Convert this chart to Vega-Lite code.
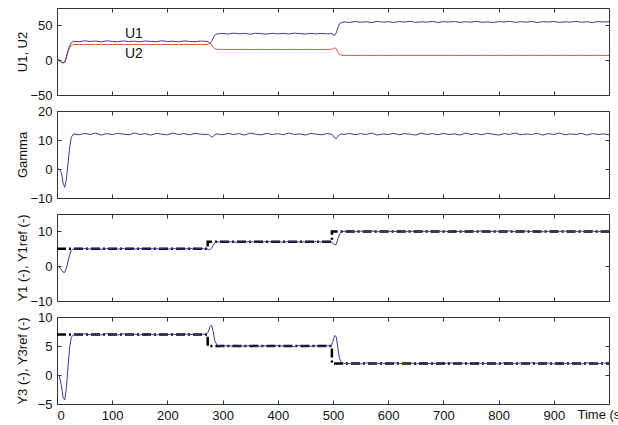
{
  "$schema": "https://vega.github.io/schema/vega-lite/v6.json",
  "padding": {"left": 15, "top": 7, "right": 0, "bottom": 0},
  "spacing": 16,
  "bounds": "flush",
  "config": {
    "view": {"stroke": "#333333", "strokeWidth": 1},
    "font": "Liberation Sans",
    "axis": {"grid": false, "domain": false, "tickSize": -4, "tickColor": "#333333", "labelFontSize": 13, "titleFontSize": 13, "labelColor": "#111111", "titleColor": "#111111", "titleFontWeight": "normal", "labelPadding": 9}
  },
  "datasets": {
    "sim": [
      {"t":0,"U1":0,"U2":0,"G":0,"Y1":0,"Y3":0},
      {"t":4,"U1":1,"U2":-1,"G":0,"Y1":-0.2,"Y3":-0.1},
      {"t":8,"U1":-2,"U2":-3,"G":-1.2,"Y1":-1.0,"Y3":-1.8},
      {"t":11,"U1":-4,"U2":-4,"G":-4.8,"Y1":-1.7,"Y3":-3.9},
      {"t":14,"U1":-2.5,"U2":-3,"G":-6.3,"Y1":-1.8,"Y3":-4.3},
      {"t":17,"U1":5,"U2":3,"G":-3.5,"Y1":-0.6,"Y3":-2.2},
      {"t":20,"U1":14,"U2":12,"G":2,"Y1":1.4,"Y3":1.5},
      {"t":23,"U1":21,"U2":18,"G":7.5,"Y1":3.4,"Y3":4.8},
      {"t":26,"U1":25.5,"U2":21.5,"G":11,"Y1":4.6,"Y3":6.5},
      {"t":30,"U1":27.2,"U2":22.5,"G":12.1,"Y1":5.0,"Y3":7.0},
      {"t":40,"U1":26.6,"U2":22.6,"G":11.8,"Y1":4.9,"Y3":6.9},
      {"t":50,"U1":27.8,"U2":22.5,"G":12.3,"Y1":5.1,"Y3":7.1},
      {"t":60,"U1":26.9,"U2":22.6,"G":11.9,"Y1":4.95,"Y3":6.95},
      {"t":70,"U1":27.5,"U2":22.5,"G":12.4,"Y1":5.05,"Y3":7.05},
      {"t":80,"U1":26.3,"U2":22.6,"G":11.7,"Y1":4.9,"Y3":6.9},
      {"t":90,"U1":27.9,"U2":22.5,"G":12.2,"Y1":5.1,"Y3":7.15},
      {"t":100,"U1":27.0,"U2":22.6,"G":11.9,"Y1":5.0,"Y3":7.0},
      {"t":110,"U1":26.5,"U2":22.5,"G":12.3,"Y1":4.9,"Y3":6.9},
      {"t":120,"U1":27.7,"U2":22.6,"G":12.0,"Y1":5.1,"Y3":7.1},
      {"t":130,"U1":26.8,"U2":22.5,"G":11.8,"Y1":5.0,"Y3":6.95},
      {"t":140,"U1":27.4,"U2":22.6,"G":12.4,"Y1":4.95,"Y3":7.05},
      {"t":150,"U1":26.4,"U2":22.5,"G":11.9,"Y1":5.1,"Y3":6.9},
      {"t":160,"U1":27.6,"U2":22.6,"G":12.2,"Y1":4.9,"Y3":7.1},
      {"t":170,"U1":27.0,"U2":22.5,"G":11.7,"Y1":5.05,"Y3":7.0},
      {"t":180,"U1":26.6,"U2":22.6,"G":12.3,"Y1":4.95,"Y3":6.9},
      {"t":190,"U1":27.9,"U2":22.5,"G":12.0,"Y1":5.1,"Y3":7.1},
      {"t":200,"U1":26.9,"U2":22.6,"G":11.8,"Y1":4.9,"Y3":6.95},
      {"t":210,"U1":27.3,"U2":22.5,"G":12.4,"Y1":5.05,"Y3":7.05},
      {"t":220,"U1":26.5,"U2":22.6,"G":11.9,"Y1":5.0,"Y3":6.9},
      {"t":230,"U1":27.7,"U2":22.5,"G":12.2,"Y1":4.9,"Y3":7.1},
      {"t":240,"U1":27.0,"U2":22.6,"G":11.8,"Y1":5.1,"Y3":7.0},
      {"t":250,"U1":26.6,"U2":22.5,"G":12.3,"Y1":4.95,"Y3":6.95},
      {"t":260,"U1":27.5,"U2":22.6,"G":12.0,"Y1":5.05,"Y3":7.05},
      {"t":270,"U1":27.0,"U2":22.5,"G":11.9,"Y1":5.0,"Y3":7.0},
      {"t":274,"U1":26.5,"U2":23.0,"G":12.0,"Y1":4.9,"Y3":7.4},
      {"t":277,"U1":24.5,"U2":24.0,"G":11.5,"Y1":4.7,"Y3":8.3},
      {"t":280,"U1":27.0,"U2":22.5,"G":11.0,"Y1":5.2,"Y3":8.6},
      {"t":283,"U1":32.0,"U2":19.0,"G":11.3,"Y1":6.0,"Y3":7.5},
      {"t":286,"U1":36.0,"U2":16.5,"G":11.8,"Y1":6.7,"Y3":5.9},
      {"t":290,"U1":37.8,"U2":15.6,"G":12.1,"Y1":7.0,"Y3":5.1},
      {"t":300,"U1":38.4,"U2":15.5,"G":11.8,"Y1":6.95,"Y3":4.95},
      {"t":310,"U1":37.6,"U2":15.5,"G":12.3,"Y1":7.1,"Y3":5.1},
      {"t":320,"U1":38.9,"U2":15.4,"G":11.9,"Y1":6.9,"Y3":4.9},
      {"t":330,"U1":37.9,"U2":15.5,"G":12.2,"Y1":7.05,"Y3":5.05},
      {"t":340,"U1":38.6,"U2":15.5,"G":11.7,"Y1":6.95,"Y3":4.95},
      {"t":350,"U1":37.4,"U2":15.4,"G":12.4,"Y1":7.1,"Y3":5.1},
      {"t":360,"U1":38.8,"U2":15.5,"G":12.0,"Y1":6.9,"Y3":4.9},
      {"t":370,"U1":38.0,"U2":15.5,"G":11.8,"Y1":7.0,"Y3":5.0},
      {"t":380,"U1":37.5,"U2":15.4,"G":12.3,"Y1":7.1,"Y3":5.05},
      {"t":390,"U1":38.7,"U2":15.5,"G":11.9,"Y1":6.95,"Y3":4.9},
      {"t":400,"U1":37.8,"U2":15.5,"G":12.2,"Y1":7.05,"Y3":5.1},
      {"t":410,"U1":38.5,"U2":15.4,"G":11.8,"Y1":6.9,"Y3":4.95},
      {"t":420,"U1":37.6,"U2":15.5,"G":12.4,"Y1":7.1,"Y3":5.05},
      {"t":430,"U1":38.9,"U2":15.5,"G":11.9,"Y1":7.0,"Y3":4.9},
      {"t":440,"U1":38.1,"U2":15.4,"G":12.1,"Y1":6.95,"Y3":5.1},
      {"t":450,"U1":37.5,"U2":15.5,"G":11.7,"Y1":7.05,"Y3":5.0},
      {"t":460,"U1":38.6,"U2":15.5,"G":12.3,"Y1":6.9,"Y3":4.95},
      {"t":470,"U1":37.8,"U2":15.4,"G":12.0,"Y1":7.1,"Y3":5.05},
      {"t":480,"U1":38.4,"U2":15.5,"G":11.8,"Y1":6.95,"Y3":4.9},
      {"t":490,"U1":37.9,"U2":15.5,"G":12.2,"Y1":7.0,"Y3":5.05},
      {"t":497,"U1":38.2,"U2":15.6,"G":12.0,"Y1":6.95,"Y3":5.1},
      {"t":500,"U1":37.0,"U2":16.5,"G":11.6,"Y1":6.6,"Y3":5.8},
      {"t":503,"U1":35.5,"U2":17.8,"G":10.7,"Y1":6.1,"Y3":6.8},
      {"t":506,"U1":39.5,"U2":16.5,"G":10.5,"Y1":6.3,"Y3":6.6},
      {"t":509,"U1":47.0,"U2":11.5,"G":11.3,"Y1":8.0,"Y3":4.5},
      {"t":512,"U1":52.5,"U2":8.2,"G":11.9,"Y1":9.3,"Y3":2.8},
      {"t":516,"U1":54.3,"U2":7.0,"G":12.1,"Y1":9.9,"Y3":2.1},
      {"t":520,"U1":55.0,"U2":6.9,"G":11.9,"Y1":10.0,"Y3":2.0},
      {"t":530,"U1":54.2,"U2":7.0,"G":12.3,"Y1":10.1,"Y3":1.95},
      {"t":540,"U1":55.6,"U2":6.9,"G":11.8,"Y1":9.9,"Y3":2.05},
      {"t":550,"U1":54.5,"U2":6.9,"G":12.2,"Y1":10.05,"Y3":1.9},
      {"t":560,"U1":55.3,"U2":7.0,"G":11.9,"Y1":9.95,"Y3":2.1},
      {"t":570,"U1":54.0,"U2":6.9,"G":12.4,"Y1":10.1,"Y3":2.0},
      {"t":580,"U1":55.8,"U2":6.9,"G":11.7,"Y1":9.9,"Y3":1.95},
      {"t":590,"U1":54.7,"U2":7.0,"G":12.1,"Y1":10.0,"Y3":2.05},
      {"t":600,"U1":55.2,"U2":6.9,"G":11.9,"Y1":10.05,"Y3":1.9},
      {"t":610,"U1":54.3,"U2":6.9,"G":12.3,"Y1":9.95,"Y3":2.1},
      {"t":620,"U1":55.5,"U2":7.0,"G":11.8,"Y1":10.1,"Y3":2.0},
      {"t":630,"U1":54.8,"U2":6.9,"G":12.2,"Y1":9.9,"Y3":1.95},
      {"t":640,"U1":55.9,"U2":6.9,"G":12.0,"Y1":10.0,"Y3":2.05},
      {"t":650,"U1":54.4,"U2":7.0,"G":11.7,"Y1":10.05,"Y3":1.9},
      {"t":660,"U1":55.1,"U2":6.9,"G":12.4,"Y1":9.95,"Y3":2.1},
      {"t":670,"U1":54.6,"U2":6.9,"G":11.9,"Y1":10.1,"Y3":2.0},
      {"t":680,"U1":55.7,"U2":7.0,"G":12.2,"Y1":9.9,"Y3":1.95},
      {"t":690,"U1":54.2,"U2":6.9,"G":11.8,"Y1":10.0,"Y3":2.05},
      {"t":700,"U1":55.4,"U2":6.9,"G":12.3,"Y1":10.05,"Y3":1.9},
      {"t":710,"U1":54.9,"U2":7.0,"G":11.9,"Y1":9.95,"Y3":2.1},
      {"t":720,"U1":55.6,"U2":6.9,"G":12.1,"Y1":10.1,"Y3":2.0},
      {"t":730,"U1":54.3,"U2":6.9,"G":11.7,"Y1":9.9,"Y3":1.95},
      {"t":740,"U1":55.2,"U2":7.0,"G":12.4,"Y1":10.0,"Y3":2.05},
      {"t":750,"U1":54.7,"U2":6.9,"G":11.9,"Y1":10.05,"Y3":1.9},
      {"t":760,"U1":55.8,"U2":6.9,"G":12.2,"Y1":9.95,"Y3":2.1},
      {"t":770,"U1":54.5,"U2":7.0,"G":11.8,"Y1":10.1,"Y3":2.0},
      {"t":780,"U1":55.0,"U2":6.9,"G":12.3,"Y1":9.9,"Y3":1.95},
      {"t":790,"U1":54.2,"U2":6.9,"G":12.0,"Y1":10.0,"Y3":2.05},
      {"t":800,"U1":55.5,"U2":7.0,"G":11.7,"Y1":10.05,"Y3":1.9},
      {"t":810,"U1":54.8,"U2":6.9,"G":12.2,"Y1":9.95,"Y3":2.1},
      {"t":820,"U1":55.9,"U2":6.9,"G":11.9,"Y1":10.1,"Y3":2.0},
      {"t":830,"U1":54.4,"U2":7.0,"G":12.4,"Y1":9.9,"Y3":1.95},
      {"t":840,"U1":55.3,"U2":6.9,"G":11.8,"Y1":10.0,"Y3":2.05},
      {"t":850,"U1":54.6,"U2":6.9,"G":12.1,"Y1":10.05,"Y3":1.9},
      {"t":860,"U1":55.7,"U2":7.0,"G":11.9,"Y1":9.95,"Y3":2.1},
      {"t":870,"U1":54.1,"U2":6.9,"G":12.3,"Y1":10.1,"Y3":2.0},
      {"t":880,"U1":55.4,"U2":6.9,"G":11.7,"Y1":9.9,"Y3":1.95},
      {"t":890,"U1":54.9,"U2":7.0,"G":12.2,"Y1":10.0,"Y3":2.05},
      {"t":900,"U1":55.6,"U2":6.9,"G":11.9,"Y1":10.05,"Y3":1.9},
      {"t":910,"U1":54.3,"U2":6.9,"G":12.4,"Y1":9.95,"Y3":2.1},
      {"t":920,"U1":55.1,"U2":7.0,"G":11.8,"Y1":10.1,"Y3":2.0},
      {"t":930,"U1":54.7,"U2":6.9,"G":12.1,"Y1":9.9,"Y3":1.95},
      {"t":940,"U1":55.8,"U2":6.9,"G":11.9,"Y1":10.0,"Y3":2.05},
      {"t":950,"U1":54.5,"U2":7.0,"G":12.3,"Y1":10.05,"Y3":1.9},
      {"t":960,"U1":55.2,"U2":6.9,"G":11.7,"Y1":9.95,"Y3":2.1},
      {"t":970,"U1":54.0,"U2":6.9,"G":12.2,"Y1":10.1,"Y3":2.0},
      {"t":980,"U1":55.5,"U2":7.0,"G":11.9,"Y1":9.9,"Y3":1.95},
      {"t":990,"U1":54.8,"U2":6.9,"G":12.1,"Y1":10.0,"Y3":2.05},
      {"t":1000,"U1":55.3,"U2":6.9,"G":11.8,"Y1":10.05,"Y3":2.0}
    ],
    "ref": [
      {"t":0,"r1":5,"r3":7},
      {"t":273,"r1":7,"r3":5},
      {"t":498,"r1":10,"r3":2},
      {"t":1000,"r1":10,"r3":2}
    ],
    "lab": [
      {"t":123,"v":38,"label":"U1"},
      {"t":123,"v":9,"label":"U2"}
    ]
  },
  "vconcat": [
    {
      "width": 552, "height": 87,
      "resolve": {"axis": {"x": "independent", "y": "independent"}},
      "layer": [
        {
          "data": {"name": "sim"},
          "mark": {"type": "line", "color": "#cc5a4e", "strokeWidth": 1},
          "encoding": {
            "x": {"field": "t", "type": "quantitative", "scale": {"domain": [0, 1000], "nice": false}, "axis": {"orient": "bottom", "labels": false, "title": null, "values": [0,100,200,300,400,500,600,700,800,900,1000]}},
            "y": {"field": "U2", "type": "quantitative", "scale": {"domain": [-50, 75], "nice": false}, "axis": {"orient": "left", "values": [-50, 0, 50], "title": "U1, U2", "titleX": -35, "titleBaseline": "middle"}}
          }
        },
        {
          "data": {"name": "sim"},
          "mark": {"type": "line", "color": "#3c3c9c", "strokeWidth": 1},
          "encoding": {
            "x": {"field": "t", "type": "quantitative", "scale": {"domain": [0, 1000], "nice": false}, "axis": {"orient": "top", "labels": false, "title": null, "values": [0,100,200,300,400,500,600,700,800,900,1000]}},
            "y": {"field": "U1", "type": "quantitative", "scale": {"domain": [-50, 75], "nice": false}, "axis": {"orient": "right", "labels": false, "title": null, "values": [-50, 0, 50]}}
          }
        },
        {
          "data": {"name": "lab"},
          "mark": {"type": "text", "align": "left", "baseline": "middle", "fontSize": 14, "color": "#111111"},
          "encoding": {
            "x": {"field": "t", "type": "quantitative", "scale": {"domain": [0, 1000], "nice": false}, "axis": null},
            "y": {"field": "v", "type": "quantitative", "scale": {"domain": [-50, 75], "nice": false}, "axis": null},
            "text": {"field": "label"}
          }
        }
      ]
    },
    {
      "width": 552, "height": 87,
      "resolve": {"axis": {"x": "independent", "y": "independent"}},
      "layer": [
        {
          "data": {"name": "sim"},
          "mark": {"type": "line", "color": "#3c3c9c", "strokeWidth": 1},
          "encoding": {
            "x": {"field": "t", "type": "quantitative", "scale": {"domain": [0, 1000], "nice": false}, "axis": {"orient": "bottom", "labels": false, "title": null, "values": [0,100,200,300,400,500,600,700,800,900,1000]}},
            "y": {"field": "G", "type": "quantitative", "scale": {"domain": [-10, 20], "nice": false}, "axis": {"orient": "left", "values": [-10, 0, 10, 20], "title": "Gamma", "titleX": -35, "titleBaseline": "middle"}}
          }
        },
        {
          "data": {"name": "sim"},
          "mark": {"type": "line", "color": "#3c3c9c", "strokeWidth": 1, "opacity": 0},
          "encoding": {
            "x": {"field": "t", "type": "quantitative", "scale": {"domain": [0, 1000], "nice": false}, "axis": {"orient": "top", "labels": false, "title": null, "values": [0,100,200,300,400,500,600,700,800,900,1000]}},
            "y": {"field": "G", "type": "quantitative", "scale": {"domain": [-10, 20], "nice": false}, "axis": {"orient": "right", "labels": false, "title": null, "values": [-10, 0, 10, 20]}}
          }
        }
      ]
    },
    {
      "width": 552, "height": 87,
      "resolve": {"axis": {"x": "independent", "y": "independent"}},
      "layer": [
        {
          "data": {"name": "ref"},
          "mark": {"type": "line", "color": "#000000", "strokeWidth": 2.5, "interpolate": "step-after", "strokeDash": [9, 3, 2, 3]},
          "encoding": {
            "x": {"field": "t", "type": "quantitative", "scale": {"domain": [0, 1000], "nice": false}, "axis": {"orient": "bottom", "labels": false, "title": null, "values": [0,100,200,300,400,500,600,700,800,900,1000]}},
            "y": {"field": "r1", "type": "quantitative", "scale": {"domain": [-10, 15], "nice": false}, "axis": {"orient": "left", "values": [-10, 0, 10], "title": "Y1 (-), Y1ref (-)", "titleX": -35, "titleBaseline": "middle"}}
          }
        },
        {
          "data": {"name": "sim"},
          "mark": {"type": "line", "color": "#3c3c9c", "strokeWidth": 1},
          "encoding": {
            "x": {"field": "t", "type": "quantitative", "scale": {"domain": [0, 1000], "nice": false}, "axis": {"orient": "top", "labels": false, "title": null, "values": [0,100,200,300,400,500,600,700,800,900,1000]}},
            "y": {"field": "Y1", "type": "quantitative", "scale": {"domain": [-10, 15], "nice": false}, "axis": {"orient": "right", "labels": false, "title": null, "values": [-10, 0, 10]}}
          }
        }
      ]
    },
    {
      "width": 552, "height": 87,
      "resolve": {"axis": {"x": "independent", "y": "independent"}},
      "layer": [
        {
          "data": {"name": "ref"},
          "mark": {"type": "line", "color": "#000000", "strokeWidth": 2.5, "interpolate": "step-after", "strokeDash": [9, 3, 2, 3]},
          "encoding": {
            "x": {"field": "t", "type": "quantitative", "scale": {"domain": [0, 1000], "nice": false}, "axis": {"orient": "bottom", "values": [0,100,200,300,400,500,600,700,800,900], "title": "Time (s)", "titleX": 520, "titleY": 4, "titleAlign": "left", "titleBaseline": "top", "titleFontWeight": "normal"}},
            "y": {"field": "r3", "type": "quantitative", "scale": {"domain": [-5, 10], "nice": false}, "axis": {"orient": "left", "values": [-5, 0, 5, 10], "title": "Y3 (-), Y3ref (-)", "titleX": -35, "titleBaseline": "middle"}}
          }
        },
        {
          "data": {"name": "sim"},
          "mark": {"type": "line", "color": "#3c3c9c", "strokeWidth": 1},
          "encoding": {
            "x": {"field": "t", "type": "quantitative", "scale": {"domain": [0, 1000], "nice": false}, "axis": {"orient": "top", "labels": false, "title": null, "values": [0,100,200,300,400,500,600,700,800,900,1000]}},
            "y": {"field": "Y3", "type": "quantitative", "scale": {"domain": [-5, 10], "nice": false}, "axis": {"orient": "right", "labels": false, "title": null, "values": [-5, 0, 5, 10]}}
          }
        }
      ]
    }
  ]
}
